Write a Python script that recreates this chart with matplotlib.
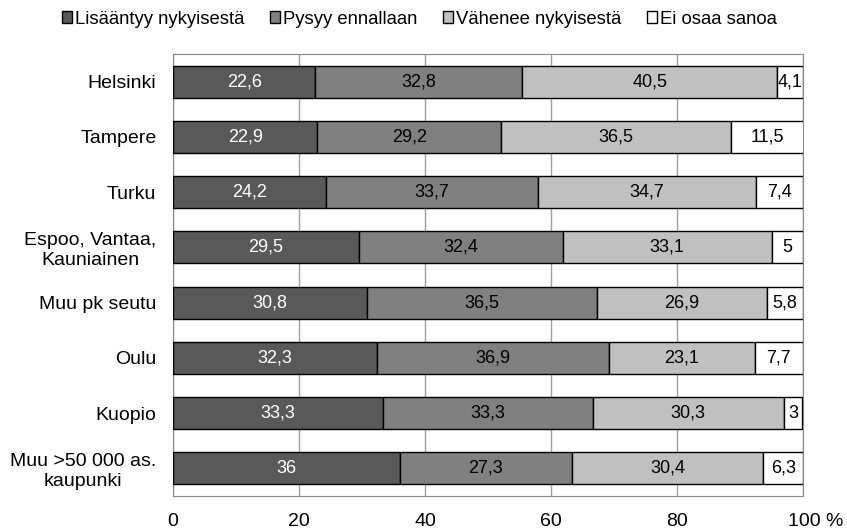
import numpy as np
import matplotlib
import matplotlib.pyplot as plt
from matplotlib.transforms import ScaledTranslation

font = {'size': 14, 'family': ['Liberation Sans', 'DejaVu Sans']}
matplotlib.rc('font', **font)

cities = ['Helsinki', 'Tampere', 'Turku', 'Espoo, Vantaa,\nKauniainen',
          'Muu pk seutu', 'Oulu', 'Kuopio', 'Muu >50 000 as.\nkaupunki']
increase = [22.6, 22.9, 24.2, 29.5, 30.8, 32.3, 33.3, 36]
same = [32.8, 29.2, 33.7, 32.4, 36.5, 36.9, 33.3, 27.3]
decrease = [40.5, 36.5, 34.7, 33.1, 26.9, 23.1, 30.3, 30.4]
dont_know = [4.1, 11.5, 7.4, 5, 5.8, 7.7, 3, 6.3]

labels = ['Lisääntyy nykyisestä', 'Pysyy ennallaan', 'Vähenee nykyisestä', 'Ei osaa sanoa']
colors = ['#595959', '#808080', '#c0c0c0', '#ffffff']
text_colors = ['white', 'black', 'black', 'black']

fig = plt.figure(figsize=(8.47, 5.29), dpi=100)
ax = fig.add_axes([0.2043, 0.0624, 0.7438, 0.8355])

y = np.arange(len(cities))
left = np.zeros(len(cities))
for series, lab, col, tc in zip([increase, same, decrease, dont_know], labels, colors, text_colors):
    vals = np.array(series, dtype=float)
    bars = ax.barh(y, vals, left=left, height=0.58, color=col, edgecolor='black',
                   linewidth=1.0, label=lab, zorder=3)
    for b, v in zip(bars, vals):
        txt = ('%g' % v).replace('.', ',')
        ax.text(b.get_x() + b.get_width() / 2, b.get_y() + b.get_height() / 2, txt,
                ha='center', va='center', color=tc, fontsize=13, zorder=4)
    left += vals

ax.set_yticks(y)
ax.set_yticklabels(cities, multialignment='center')
ax.set_ylim(len(cities) - 0.5, -0.5)
ax.set_xlim(0, 100)
ax.set_xticks([0, 20, 40, 60, 80, 100])
ax.set_xticklabels(['0', '20', '40', '60', '80', '100 %'])
ax.tick_params(axis='both', length=0)
ax.tick_params(axis='x', pad=12)
ax.tick_params(axis='y', pad=12)
ax.grid(axis='x', color='#a0a0a0', linewidth=1.0, zorder=0)
for s in ax.spines.values():
    s.set_color('#888888')

# "100 %" sits with the number centred on the gridline
last = ax.get_xticklabels()[-1]
last.set_horizontalalignment('left')
last.set_transform(last.get_transform() + ScaledTranslation(-0.15, 0, fig.dpi_scale_trans))

fig.legend(loc='center', bbox_to_anchor=(0.495, 0.964), ncol=4, frameon=False,
           handlelength=0.55, handleheight=0.55, handletextpad=0.15, columnspacing=1.4,
           fontsize=13.3, borderpad=0)

plt.savefig('out.png', dpi=100)
